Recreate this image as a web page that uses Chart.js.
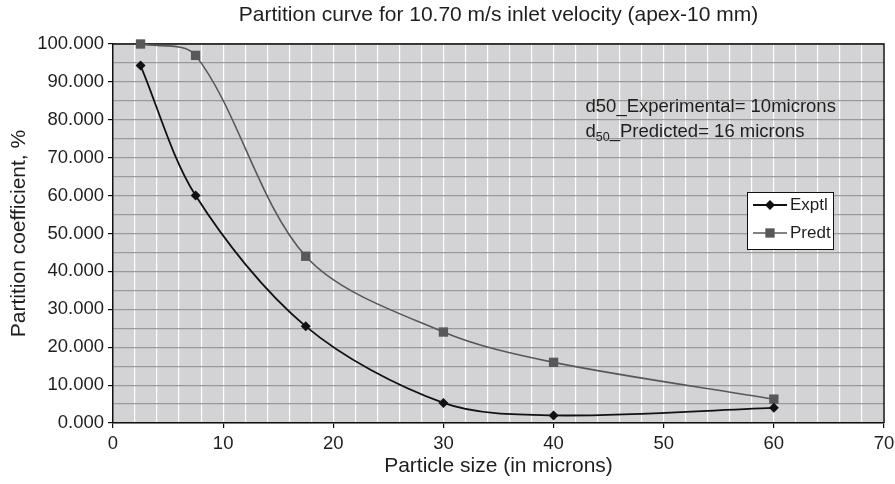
<!DOCTYPE html>
<html>
<head>
<meta charset="utf-8">
<script src="https://cdn.jsdelivr.net/npm/chart.js@4.4.1/dist/chart.umd.min.js"></script>
<style>
  html, body { margin: 0; padding: 0; background: #ffffff; }
  #wrap { width: 895px; height: 484px; }
</style>
</head>
<body>
<div id="wrap"><canvas id="c" width="895" height="484"></canvas></div>
<script>
// ---- data ----
const particleSize = [2.5, 7.5, 17.5, 30, 40, 60];
const exptlValues  = [94.3, 60.0, 25.5, 5.3, 2.0, 4.0];
const predtValues  = [100.0, 97.0, 44.0, 24.0, 16.0, 6.3];
const seriesNames  = ['Exptl', 'Predt'];
const xTickLabels  = [0, 10, 20, 30, 40, 50, 60, 70];
const yTickLabels  = [0, 10, 20, 30, 40, 50, 60, 70, 80, 90, 100];
const chartTitle   = 'Partition curve for 10.70 m/s inlet velocity (apex-10 mm)';
const xTitle       = 'Particle size (in microns)';
const yTitle       = 'Partition coefficient, %';
const noteLine1    = 'd50_Experimental= 10microns';
const noteLine2    = ['d', '50', '_Predicted= 16 microns'];

// ---- styles ----
const FONT = '"Liberation Sans", Arial, Helvetica, sans-serif';
const TEXT = '#1e1e1e';
const PLOT_BG = '#d3d3d5';
const EXP_COLOR = '#111111';
const PRE_COLOR = '#58585a';
const notePos = { x: 42.9, y1: 83.4, y2: 76.8 };

const toPts = (xs, ys) => xs.map((x, i) => ({ x: x, y: ys[i] }));

const plotDecor = {
  id: 'plotDecor',
  beforeDraw(chart) {
    const { ctx, chartArea: a } = chart;
    ctx.save();
    ctx.fillStyle = '#ffffff';
    ctx.fillRect(0, 0, chart.width, chart.height);
    ctx.fillStyle = PLOT_BG;
    ctx.fillRect(a.left, a.top, a.right - a.left, a.bottom - a.top);
    ctx.restore();
  },
  beforeDatasetsDraw(chart) {
    const { ctx, chartArea: a } = chart;
    ctx.save();
    ctx.strokeStyle = '#111111';
    ctx.lineWidth = 1.5;
    ctx.beginPath();
    ctx.moveTo(a.left, a.top);
    ctx.lineTo(a.right, a.top);
    ctx.lineTo(a.right, a.bottom);
    ctx.stroke();
    ctx.restore();
  },
  afterDraw(chart) {
    const { ctx, chartArea: a, scales } = chart;
    ctx.save();
    // title centred over plot area
    ctx.fillStyle = TEXT;
    ctx.font = '21px ' + FONT;
    ctx.textAlign = 'center';
    ctx.textBaseline = 'middle';
    ctx.fillText(chartTitle, (a.left + a.right) / 2, 15);

    // notes
    ctx.textAlign = 'left';
    const nx = scales.x.getPixelForValue(notePos.x);
    const ny1 = scales.y.getPixelForValue(notePos.y1);
    const ny2 = scales.y.getPixelForValue(notePos.y2);
    ctx.font = '18.5px ' + FONT;
    ctx.fillText(noteLine1, nx, ny1);
    let cx = nx;
    ctx.fillText(noteLine2[0], cx, ny2);
    cx += ctx.measureText(noteLine2[0]).width;
    ctx.font = '12.5px ' + FONT;
    ctx.fillText(noteLine2[1], cx, ny2 + 6);
    cx += ctx.measureText(noteLine2[1]).width;
    ctx.font = '18.5px ' + FONT;
    ctx.fillText(noteLine2[2], cx, ny2);

    // legend box
    const bw = 86, bh = 57;
    const bx = a.right - 137, by = a.top + 148;
    ctx.fillStyle = '#ffffff';
    ctx.fillRect(bx, by, bw, bh);
    ctx.strokeStyle = '#111111';
    ctx.lineWidth = 1;
    ctx.strokeRect(bx + 0.5, by + 0.5, bw, bh);
    chart.data.datasets.forEach((ds, i) => {
      const ry = by + 13 + i * 28;
      const lx0 = bx + 6, lx1 = bx + 40, mx = (lx0 + lx1) / 2;
      ctx.strokeStyle = ds.borderColor;
      ctx.lineWidth = ds.borderWidth;
      ctx.beginPath();
      ctx.moveTo(lx0, ry);
      ctx.lineTo(lx1, ry);
      ctx.stroke();
      ctx.fillStyle = ds.pointBackgroundColor;
      if (ds.pointStyle === 'rectRot') {
        const r = ds.pointRadius;
        ctx.beginPath();
        ctx.moveTo(mx, ry - r); ctx.lineTo(mx + r, ry);
        ctx.lineTo(mx, ry + r); ctx.lineTo(mx - r, ry);
        ctx.closePath(); ctx.fill();
      } else {
        const s = ds.pointRadius * Math.SQRT1_2;
        ctx.fillRect(mx - s, ry - s, 2 * s, 2 * s);
      }
      ctx.fillStyle = TEXT;
      ctx.font = '17px ' + FONT;
      ctx.textAlign = 'left';
      ctx.textBaseline = 'middle';
      ctx.fillText(ds.label, bx + 43, ry);
    });
    ctx.restore();
  }
};

new Chart(document.getElementById('c'), {
  type: 'line',
  data: {
    datasets: [
      {
        label: seriesNames[0],
        data: toPts(particleSize, exptlValues),
        borderColor: EXP_COLOR,
        backgroundColor: EXP_COLOR,
        pointBackgroundColor: EXP_COLOR,
        pointBorderColor: EXP_COLOR,
        pointBorderWidth: 0,
        borderWidth: 1.8,
        pointStyle: 'rectRot',
        pointRadius: 5,
        tension: 0.32,
        capBezierPoints: false,
        clip: false,
        fill: false
      },
      {
        label: seriesNames[1],
        data: toPts(particleSize, predtValues),
        borderColor: PRE_COLOR,
        backgroundColor: PRE_COLOR,
        pointBackgroundColor: PRE_COLOR,
        pointBorderColor: PRE_COLOR,
        pointBorderWidth: 0,
        borderWidth: 1.6,
        pointStyle: 'rect',
        pointRadius: 6.6,
        tension: 0.32,
        capBezierPoints: false,
        clip: false,
        fill: false
      }
    ]
  },
  plugins: [plotDecor],
  options: {
    responsive: false,
    animation: false,
    devicePixelRatio: 1,
    layout: { padding: { top: 44, right: 11, left: 0, bottom: 0 } },
    plugins: {
      legend: { display: false },
      title: { display: false },
      tooltip: { enabled: false }
    },
    scales: {
      x: {
        type: 'linear',
        min: xTickLabels[0],
        max: xTickLabels[xTickLabels.length - 1],
        afterFit(s) { s.height = 61; s.paddingRight = 0; s.paddingLeft = 0; },
        ticks: {
          stepSize: 2,
          autoSkip: false,
          maxRotation: 0,
          padding: 5,
          color: TEXT,
          font: { family: FONT, size: 18.5 },
          callback: v => (xTickLabels.includes(v) ? String(v) : '')
        },
        grid: {
          color: '#ffffff',
          lineWidth: 1.2,
          tickLength: 5,
          tickColor: c => (c.tick && xTickLabels.includes(c.tick.value) ? '#111111' : 'rgba(0,0,0,0)')
        },
        border: { color: '#111111', width: 1.5 },
        title: {
          display: true,
          text: xTitle,
          color: TEXT,
          font: { family: FONT, size: 21 },
          padding: { top: 0, bottom: 5 }
        }
      },
      y: {
        type: 'linear',
        min: yTickLabels[0],
        max: yTickLabels[yTickLabels.length - 1],
        afterFit(s) { s.width = 113; s.paddingTop = 0; s.paddingBottom = 0; },
        ticks: {
          stepSize: 5,
          autoSkip: false,
          padding: 4,
          color: TEXT,
          font: { family: FONT, size: 18.5 },
          callback: v => (yTickLabels.includes(v) ? v.toFixed(3) : '')
        },
        grid: {
          color: '#9a9a9c',
          lineWidth: 1.2,
          tickLength: 5,
          tickColor: c => (c.tick && yTickLabels.includes(c.tick.value) ? '#111111' : 'rgba(0,0,0,0)')
        },
        border: { color: '#111111', width: 1.5 },
        title: {
          display: true,
          text: yTitle,
          color: TEXT,
          font: { family: FONT, size: 21 },
          padding: { top: 7, bottom: 0 }
        }
      }
    }
  }
});
</script>
</body>
</html>
